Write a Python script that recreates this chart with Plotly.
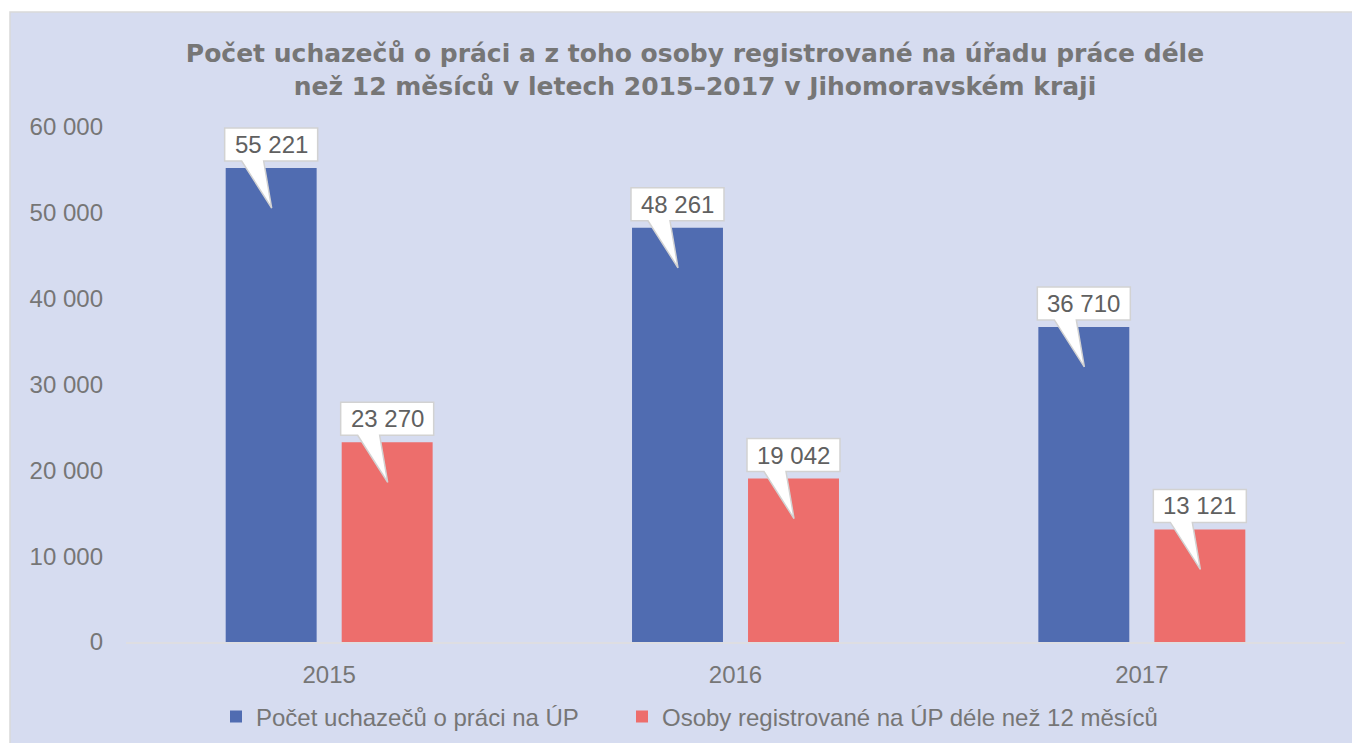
import plotly.graph_objects as go

years = ["2015", "2016", "2017"]
uchazeci = [55221, 48261, 36710]
dlouhodobi = [23270, 19042, 13121]
series_names = ["Počet uchazečů o práci na ÚP", "Osoby registrované na ÚP déle než 12 měsíců"]
y_ticks = [0, 10000, 20000, 30000, 40000, 50000, 60000]

title_text = ("Počet uchazečů o práci a z toho osoby registrované na úřadu práce déle<br>"
              "než 12 měsíců v letech 2015–2017 v Jihomoravském kraji")

# page body has an 8px margin, so the figure is drawn 8px smaller
W, H = 1352, 735
ML, MR, MT, MB = 118, 15, 119, 101
BARGAP = 0.429
BARGROUPGAP = 0.216
BLUE = "rgb(80,108,177)"
RED = "rgb(237,110,108)"
BG = "rgb(214,220,240)"
FONT = "Liberation Sans, Arial, sans-serif"
GREY = "rgb(118,118,118)"
BORDER = "rgb(217,217,217)"

plot_w = W - ML - MR
plot_h = H - MT - MB
cat_w = plot_w / len(years)
slot = cat_w * (1 - BARGAP) / 2
offsets = [-slot / 2, slot / 2]


def px_x(p):
    return (p - ML) / plot_w


def px_y(p):
    return (H - MB - p) / plot_h


fig = go.Figure()
for k, (name, vals, col) in enumerate(zip(series_names, [uchazeci, dlouhodobi], [BLUE, RED])):
    fig.add_trace(go.Bar(x=years, y=vals, name=name, marker=dict(color=col, line=dict(width=0)),
                         legendwidth=361 if k == 0 else None))

shapes = []
annotations = []
# white page strips at top and left, with the panel's grey border
shapes.append(dict(type="rect", xref="paper", yref="paper", layer="below",
                   x0=px_x(-5), x1=px_x(W + 5), y0=px_y(4), y1=px_y(-5),
                   fillcolor="white", line=dict(width=0)))
shapes.append(dict(type="rect", xref="paper", yref="paper", layer="below",
                   x0=px_x(-5), x1=px_x(2), y0=px_y(H + 5), y1=px_y(-5),
                   fillcolor="white", line=dict(width=0)))
shapes.append(dict(type="path", xref="paper", yref="paper", layer="below",
                   path=f"M{px_x(2)},{px_y(H + 5)} L{px_x(2)},{px_y(4)} L{px_x(W + 5)},{px_y(4)}",
                   line=dict(color=BORDER, width=1.5)))

# callouts
bw, bb, bt = 46.5, 7, 40
for vals, off in zip([uchazeci, dlouhodobi], offsets):
    for i, v in enumerate(vals):
        c = off
        path = (f"M{c-bw},{bb} L{c-29.5},{bb} L{c+0.5},{-40} L{c-7.5},{bb} "
                f"L{c+bw},{bb} L{c+bw},{bt} L{c-bw},{bt} Z")
        shapes.append(dict(type="path", xref="x", yref="y", xsizemode="pixel", ysizemode="pixel",
                           xanchor=i, yanchor=v, path=path, fillcolor="white",
                           line=dict(color="rgb(210,210,210)", width=1.5), layer="above"))
        annotations.append(dict(x=i, y=v, xref="x", yref="y", showarrow=False,
                                xshift=c, yshift=(bb + bt) / 2,
                                text=f"{v:,}".replace(",", " "),
                                font=dict(family=FONT, size=24, color="rgb(96,96,96)")))

fig.update_layout(
    width=W, height=H,
    margin=dict(l=ML, r=MR, t=MT, b=MB, pad=0, autoexpand=False),
    paper_bgcolor=BG,
    plot_bgcolor="rgba(0,0,0,0)",
    separators=", ",
    barmode="group", bargap=BARGAP, bargroupgap=BARGROUPGAP,
    title=dict(text=title_text, x=687 / W, xanchor="center", xref="container",
               y=1 - 54 / H, yanchor="middle", yref="container",
               font=dict(family="DejaVu Sans, sans-serif", size=25, color=GREY, weight="bold")),
    font=dict(family=FONT, size=24, color=GREY),
    xaxis=dict(type="category", range=[-0.5, len(years) - 0.5], autorange=False,
               showgrid=False, zeroline=False, showline=True,
               linecolor="rgb(222,222,226)", linewidth=2, ticks="", ticklabelstandoff=10,
               tickfont=dict(size=24, color=GREY)),
    yaxis=dict(range=[0, 60000], autorange=False, tickvals=y_ticks, tickformat=",d", showgrid=False,
               zeroline=False, showline=False, ticks="", ticklabelstandoff=22,
               tickfont=dict(size=24, color=GREY)),
    legend=dict(orientation="h", x=(208 - ML) / plot_w, xanchor="left",
                y=-75 / plot_h, yanchor="middle", bgcolor="rgba(0,0,0,0)",
                font=dict(family=FONT, size=24, color=GREY),
                traceorder="normal"),
    shapes=shapes, annotations=annotations,
)

fig.write_html("out.html")
